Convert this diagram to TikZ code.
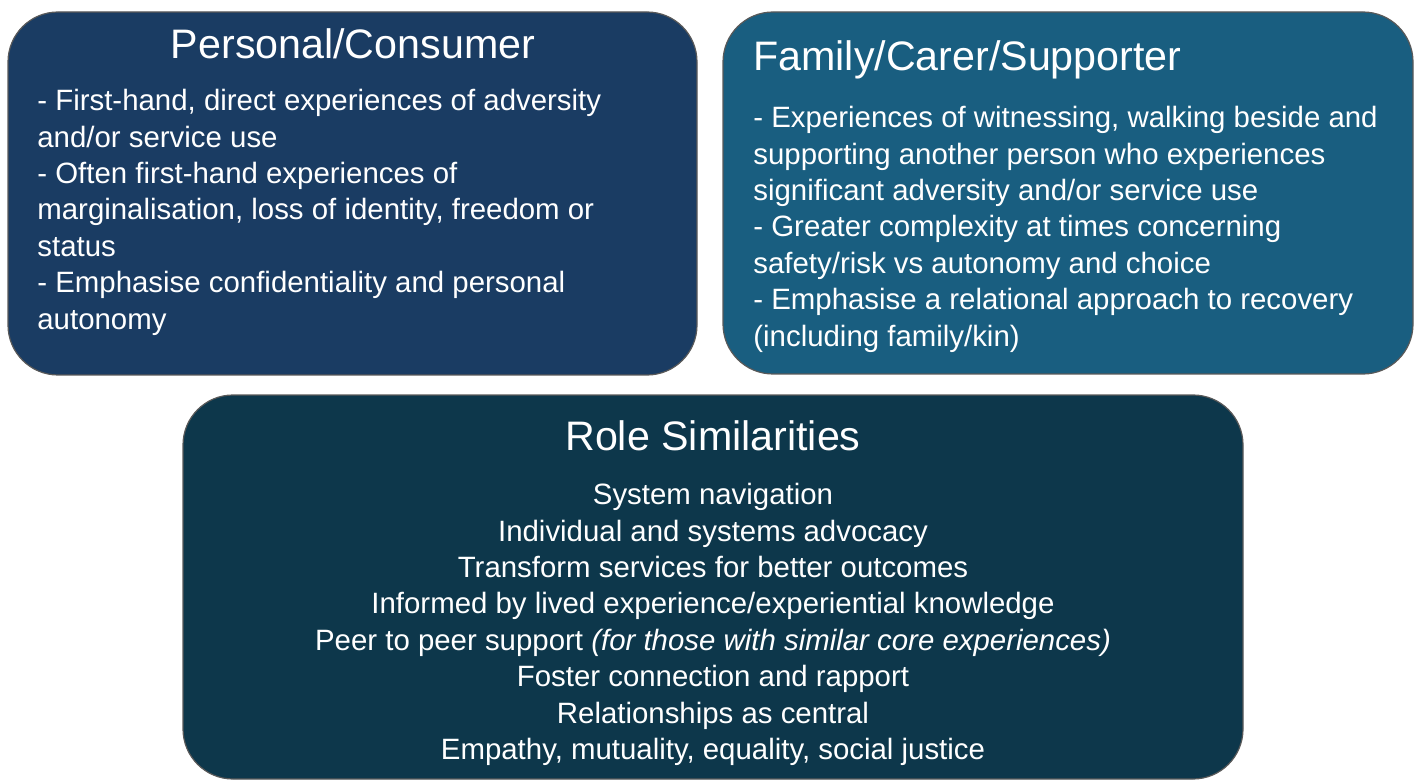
\documentclass[tikz,border=0pt]{standalone}
\usepackage{fontspec}
\setmainfont{Liberation Sans}
\definecolor{navy}{RGB}{26,60,99}
\definecolor{sea}{RGB}{25,94,128}
\definecolor{deep}{RGB}{13,55,75}
\tikzset{panel/.style={rounded corners=25pt,draw=black!65,line width=0.6pt},
  head/.style={text=white,font=\fontsize{20.6}{24}\selectfont,inner sep=0pt},
  body/.style={text=white,font=\fontsize{14.7}{18.2}\selectfont,align=left,inner sep=0pt}}

\begin{document}
\begin{tikzpicture}[x=0.5pt,y=-0.5pt]
\useasboundingbox (0,0) rectangle (1423,780);
% three panels
\draw[panel,fill=navy](8,12) rectangle (697,375);
\draw[panel,fill=sea](723,12) rectangle (1413,374);
\draw[panel,fill=deep](183,395) rectangle (1243,779);
% personal / consumer
\node (pchead) at (353,44) [head]{Personal/Consumer};
\node (pcbody) at (37,89) [body,anchor=north west]{- First-hand, direct experiences of adversity\\and/or service use\\- Often first-hand experiences of\\marginalisation, loss of identity, freedom or\\status\\- Emphasise confidentiality and personal\\autonomy};
% family / carer
\node (fchead) at (753,60) [head,anchor=west]{Family/Carer/Supporter};
\node (fcbody) at (753,106) [body,anchor=north west]{- Experiences of witnessing, walking beside and\\supporting another person who experiences\\significant adversity and/or service use\\- Greater complexity at times concerning\\safety/risk vs autonomy and choice\\- Emphasise a relational approach to recovery\\(including family/kin)};
% role similarities
\node (rshead) at (713,436) [head]{Role Similarities};
\node (rsbody) at (713,483) [body,align=center,anchor=north]{System navigation\\Individual and systems advocacy\\Transform services for better outcomes\\Informed by lived experience/experiential knowledge\\Peer to peer support \textit{(for those with similar core experiences)}\\Foster connection and rapport\\Relationships as central\\Empathy, mutuality, equality, social justice};
\end{tikzpicture}
\end{document}
